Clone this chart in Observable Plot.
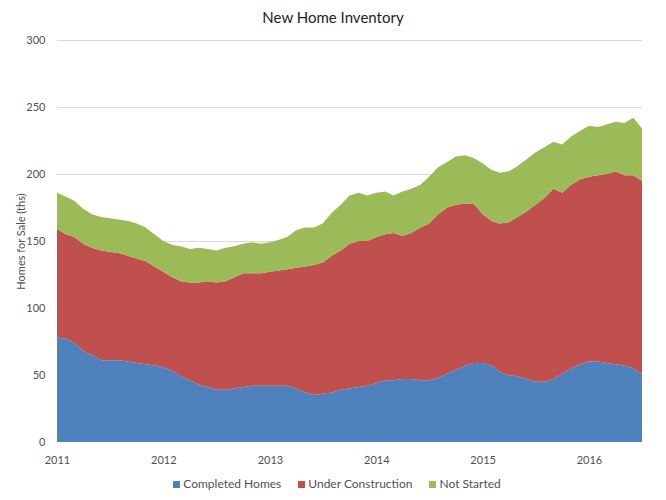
<!DOCTYPE html>
<html>
<head>
<meta charset="utf-8">
<script src="https://cdn.jsdelivr.net/npm/d3@7"></script>
<script src="https://cdn.jsdelivr.net/npm/@observablehq/plot@0.6"></script>
<style>
  body { margin: 0; background: #fff; font-family: Lato, "Open Sans", sans-serif; }
  #wrap { width: 666px; }
  #title { height: 30px; line-height: 35px; text-align: center; font-size: 15px; color: #222; }
  #legend { display: flex; justify-content: center; gap: 17px; font-size: 12px; color: #505050; margin-top: 4px; padding-left: 8px; }
  #legend span.sw { display: inline-block; width: 7px; height: 7px; margin-right: 3px; vertical-align: 0px; }
</style>
</head>
<body>
<div id="wrap">
  <div id="title">New Home Inventory</div>
  <div id="chart"></div>
  <div id="legend"></div>
</div>
<script>
const seriesNames = ["Completed Homes", "Under Construction", "Not Started"];
const seriesColors = ["#4F81BD", "#C0504D", "#9BBB59"];
const startMonth = "2011-01";
// monthly values, Jan 2011 .. Jul 2016 (thousands)
const completed = [78,77,74,68,65,61,61,61,60,59,58,57,
  56,53,49,46,43,41,39,39,40,41,42,42,
  42,42,42,40,37,35,36,37,39,40,41,42,
  44,46,46,47,47,46,46,48,51,54,57,59,
  59,57,52,50,49,47,45,45,47,51,55,58,
  60,60,59,58,57,55,51];
const underConstruction = [81,78,79,80,80,82,81,80,79,78,77,74,
  71,70,71,73,76,79,80,81,83,85,84,84,
  85,86,87,90,94,97,98,102,104,108,109,108,
  109,109,110,107,109,114,117,122,124,123,121,119,
  111,108,111,114,119,125,132,137,142,135,137,138,
  138,139,141,144,142,144,144];
const notStarted = [27,28,27,26,25,25,25,25,26,26,25,24,
  23,24,26,25,26,24,24,25,23,22,23,22,
  22,23,24,28,29,28,29,32,34,36,36,34,
  33,32,28,33,33,32,35,35,34,36,36,34,
  38,38,38,38,38,39,39,38,35,36,36,36,
  38,36,37,37,39,43,39];
const yTicks = [0, 50, 100, 150, 200, 250, 300];
const yearTicks = [2011, 2012, 2013, 2014, 2015, 2016];

const start = new Date(startMonth + "-01T00:00:00Z");
const monthDate = i => d3.utcMonth.offset(start, i);
const table = [];
[completed, underConstruction, notStarted].forEach((vals, s) => {
  vals.forEach((v, i) => table.push({date: monthDate(i), value: v, series: seriesNames[s]}));
});

const chart = Plot.plot({
  width: 666,
  height: 442,
  marginLeft: 57,
  marginRight: 24,
  marginTop: 10,
  marginBottom: 30,
  style: {fontFamily: "Lato, 'Open Sans', sans-serif", fontSize: "11px", color: "#505050", background: "#fff"},
  x: {type: "utc", domain: [start, monthDate(completed.length - 1)]},
  y: {domain: [0, 300]},
  color: {domain: seriesNames, range: seriesColors},
  marks: [
    Plot.ruleY(yTicks.slice(1), {stroke: "#d9d9d9", strokeWidth: 1}),
    Plot.areaY(table, {x: "date", y: "value", fill: "series", order: seriesNames, curve: "linear"}),
    Plot.axisY({ticks: yTicks, tickSize: 0, tickPadding: 12, label: "Homes for Sale (ths)", labelAnchor: "center", labelArrow: "none", labelOffset: 40, fontSize: 11}),
    Plot.axisX({ticks: yearTicks.map(y => new Date(Date.UTC(y, 0, 1))), tickFormat: d3.utcFormat("%Y"), tickSize: 0, tickPadding: 14, label: null, fontSize: 11})
  ]
});
document.getElementById("chart").appendChild(chart);

const legend = document.getElementById("legend");
seriesNames.forEach((n, i) => {
  const item = document.createElement("div");
  item.innerHTML = `<span class="sw" style="background:${seriesColors[i]}"></span>${n}`;
  legend.appendChild(item);
});
</script>
</body>
</html>
